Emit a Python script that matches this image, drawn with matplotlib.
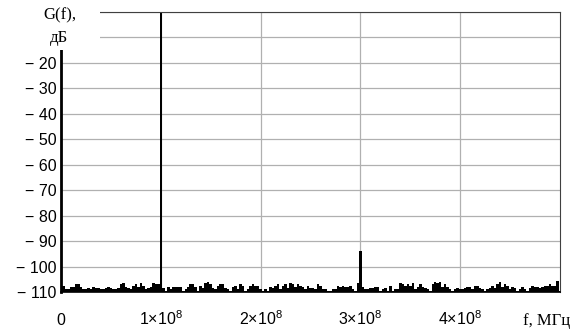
import numpy as np
import matplotlib
matplotlib.use("Agg")
import matplotlib.pyplot as plt
from matplotlib.patches import Rectangle

plt.rcParams['font.family'] = 'Liberation Sans'
plt.rcParams['mathtext.fontset'] = 'custom'
plt.rcParams['mathtext.rm'] = 'Liberation Sans'
plt.rcParams['mathtext.it'] = 'Liberation Sans'

# spectrum, 2.5 MHz bins, levels in dB
f_step = 2.5e6
floor_db = -110

band_0_100 = [-107.5, -107.5, -109, -109, -108, -108, -107, -107, -108, -109,
              -109, -108.5, -109, -108, -108.5, -108.5, -109, -109, -108.5, -108,
              -108.5, -109, -109, -108.5, -107, -106.5, -108, -108.5, -109, -107.5,
              -107, -108, -106.5, -107.5, -109, -108.5, -108, -106.5, -107, -107]
carrier_db = 0
band_100_200 = [-108.5, -109.5, -108, -109, -108, -108, -108, -108, -109.5, -109,
                -108, -107, -107, -108, -109.5, -107.5, -108.5, -106.5, -106, -107,
                -108.5, -109, -107.5, -107, -107, -108.5, -109, -109.5, -108, -107.5,
                -109, -107, -107.5, -109.5, -109, -107.5, -107, -107.5, -107.5, -109]
band_200_300 = [-109.5, -109, -109.5, -108, -108.5, -107.5, -107, -109, -107.5, -107,
                -108.5, -106.5, -107, -108, -107, -107.5, -108, -109, -107.5, -108.5,
                -108.5, -109, -107, -107.5, -109, -109, -109.5, -109.5, -109, -109,
                -107.5, -108, -107.5, -108, -108, -107.5, -109, -109.5, -106.5]
harmonic3_db = -94
band_300_400 = [-108, -109, -109, -108.5, -108.5, -108, -108, -109.5, -109, -108.5,
                -109.5, -107.5, -109.5, -109, -109, -106.5, -107, -107.5, -107, -107.5,
                -106.5, -109, -108, -107, -108, -108.5, -109, -109.5, -107, -106,
                -106.5, -106, -108, -107, -108, -109, -109.5, -109, -108.5, -109]
band_400_500 = [-109, -108.5, -108, -108, -109, -107.5, -107.5, -108.5, -109, -109.5,
                -109, -108.5, -107.5, -108.5, -107, -106, -108, -107, -107.5, -109,
                -108, -108.5, -109.5, -109, -108, -109, -109.5, -108.5, -107.5, -108,
                -108, -108.5, -108, -107.5, -107.5, -107, -107.5, -107.5, -105.5, -109.5]

levels = np.array(band_0_100 + [carrier_db] + band_100_200 + band_200_300
                  + [harmonic3_db] + band_300_400 + band_400_500)
freqs = np.arange(len(levels)) * f_step

x_ticks = [0, 1e8, 2e8, 3e8, 4e8]
x_tick_labels = ['0', r'$1{\times}10^{8}$', r'$2{\times}10^{8}$',
                 r'$3{\times}10^{8}$', r'$4{\times}10^{8}$']
y_ticks = list(range(-110, 1, 10))
y_tick_labels = ['\u2212 110', '\u2212 100', '\u2212 90', '\u2212 80', '\u2212 70',
                 '\u2212 60', '\u2212 50', '\u2212 40', '\u2212 30', '\u2212 20', '', '']

W, H = 587, 333
fig = plt.figure(figsize=(W / 100, H / 100), dpi=100)
ax = fig.add_axes([61 / W, (H - 292) / H, (560 - 61) / W, (292 - 12) / H])

ax.bar(freqs, levels - floor_db, bottom=floor_db, width=f_step,
       color='black', linewidth=0, zorder=2)

ax.set_xlim(0, 5e8)
ax.set_ylim(-110, 0)
ax.set_xticks(x_ticks)
ax.set_xticklabels(x_tick_labels, fontsize=11.5)
ax.set_yticks(y_ticks)
ax.set_yticklabels(y_tick_labels, fontsize=11.5)
ax.tick_params(axis='both', length=0)
ax.tick_params(axis='y', pad=3)
ax.tick_params(axis='x', pad=24)
for lbl in ax.get_xticklabels():
    lbl.set_va('baseline')

ax.grid(True, color='#b0b0b0', linewidth=0.9)
ax.set_axisbelow(True)

ax.spines['left'].set_linewidth(2)
ax.spines['left'].set_color('black')
ax.spines['bottom'].set_linewidth(1.2)
ax.spines['bottom'].set_color('black')
ax.spines['top'].set_color('#404040')
ax.spines['right'].set_color('#404040')

# white box behind the axis title in the upper left corner
ax.add_patch(Rectangle((0, (H - 50) / H), 100 / W, 50 / H,
                       transform=fig.transFigure, facecolor='white',
                       edgecolor='none', zorder=5, clip_on=False))

ax.text(60 / W, (H - 15) / H, 'G(f),', family='Liberation Serif', fontsize=12,
        ha='center', va='center', transform=fig.transFigure, zorder=6)
ax.text(59 / W, (H - 38) / H, 'дБ', family='Liberation Serif', fontsize=12,
        ha='center', va='center', transform=fig.transFigure, zorder=6)
ax.text(547 / W, (H - 325) / H, 'f, МГц', family='Liberation Serif', fontsize=12,
        ha='center', va='baseline', transform=fig.transFigure)

fig.savefig('out.png', dpi=100)
